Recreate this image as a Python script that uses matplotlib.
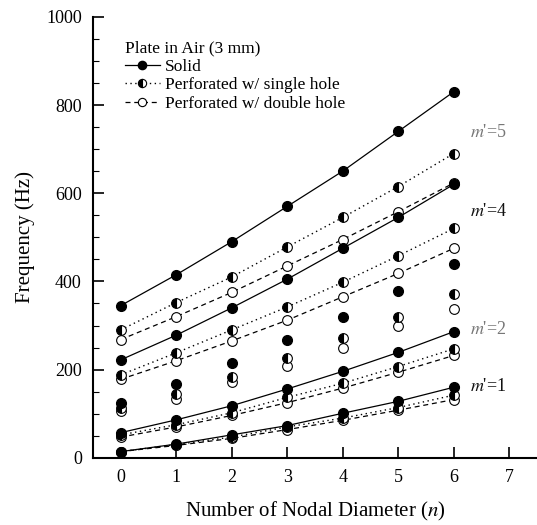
import numpy as np
import matplotlib
matplotlib.use('Agg')
import matplotlib.pyplot as plt
from matplotlib.ticker import MultipleLocator

plt.rcParams['font.family'] = ['Liberation Serif', 'DejaVu Serif']
plt.rcParams['mathtext.fontset'] = 'stix'

# Number of nodal diameters
n = [0, 1, 2, 3, 4, 5, 6]

# Solid plate
solid_m5 = [345, 415, 490, 570, 650, 740, 830]
solid_m4 = [222, 278, 340, 405, 475, 545, 620]
solid_m3 = [125, 168, 215, 266, 320, 379, 439]
solid_m2 = [57, 86, 118, 156, 196, 239, 286]
solid_m1 = [14, 31, 52, 73, 101, 128, 160]

# Perforated w/ single hole
single_m5 = [290, 352, 410, 478, 545, 615, 690]
single_m4 = [188, 238, 290, 342, 398, 458, 520]
single_m3 = [112, 145, 184, 227, 271, 320, 371]
single_m2 = [52, 75, 102, 137, 169, 207, 247]
single_m1 = [14, 30, 47, 70, 90, 114, 142]

# Perforated w/ double hole
double_m5 = [268, 320, 375, 435, 495, 558, 623]
double_m4 = [178, 220, 265, 312, 365, 418, 475]
double_m3 = [105, 134, 171, 209, 248, 298, 338]
double_m2 = [47, 70, 96, 125, 158, 194, 232]
double_m1 = [14, 28, 44, 64, 85, 108, 132]

mode_labels = ["$m$'=5", "$m$'=4", "$m$'=2", "$m$'=1"]
mode_label_y = [737, 559, 290, 161]
mode_label_color = ['#777777', '#111111', '#777777', '#111111']

fig = plt.figure(figsize=(5.37, 5.25), dpi=100)
ax = fig.add_axes([0.173, 0.128, 0.827, 0.84])

ms = 7
solid_kw = dict(color='black', linestyle='-', lw=0.9, marker='o', ms=ms,
                markerfacecolor='black', markeredgecolor='black')
single_kw = dict(color='black', linestyle=(0, (1, 2.5)), lw=1.0, marker='o', ms=ms,
                 fillstyle='left', markerfacecolor='black', markerfacecoloralt='white',
                 markeredgecolor='black', markeredgewidth=0.8)
double_kw = dict(color='black', linestyle=(0, (4, 3)), lw=0.9, marker='o', ms=ms,
                 markerfacecolor='white', markeredgecolor='black', markeredgewidth=0.8)

# lines drawn with modes 5, 4, 2, 1
ax.plot(n, solid_m5, **solid_kw, label='Solid')
ax.plot(n, single_m5, **single_kw, label='Perforated w/ single hole')
ax.plot(n, double_m5, **double_kw, label='Perforated w/ double hole')
for s, si, d in [(solid_m4, single_m4, double_m4),
                 (solid_m2, single_m2, double_m2),
                 (solid_m1, single_m1, double_m1)]:
    ax.plot(n, d, **double_kw)
    ax.plot(n, si, **single_kw)
    ax.plot(n, s, **solid_kw)

# mode 3 shown as points only
sc_kw = dict(linestyle='none')
ax.plot(n, double_m3, **{**double_kw, **sc_kw})
ax.plot(n, single_m3, **{**single_kw, **sc_kw})
ax.plot(n, solid_m3, **{**solid_kw, **sc_kw})

for lab, yy, c in zip(mode_labels, mode_label_y, mode_label_color):
    ax.text(6.3, yy, lab, fontsize=13, color=c, va='center', ha='left')

ax.set_xlim(-0.5, 7.5)
ax.set_ylim(0, 1000)
ax.xaxis.set_major_locator(MultipleLocator(1))
ax.yaxis.set_major_locator(MultipleLocator(200))
ax.yaxis.set_minor_locator(MultipleLocator(50))
ax.tick_params(axis='both', which='major', direction='in', length=8, width=1.2,
               labelsize=13, pad=8)
ax.tick_params(axis='y', which='minor', direction='in', length=4, width=0.8)
ax.spines['top'].set_visible(False)
ax.spines['right'].set_color('#bbbbbb')
ax.spines['right'].set_linewidth(0.6)
ax.spines['left'].set_linewidth(1.5)
ax.spines['bottom'].set_linewidth(1.5)

ax.set_xlabel('Number of Nodal Diameter ($n$)', fontsize=15, labelpad=10)
ax.set_ylabel('Frequency (Hz)', fontsize=15, labelpad=8)

leg = ax.legend(loc='upper left', bbox_to_anchor=(0.045, 0.975), frameon=False,
                title='Plate in Air (3 mm)', title_fontsize=12.5, fontsize=12.5,
                alignment='left', handlelength=2.0, handletextpad=0.3,
                labelspacing=0.15, borderpad=0.2, markerscale=0.85)

fig.savefig('out.png', dpi=100)
